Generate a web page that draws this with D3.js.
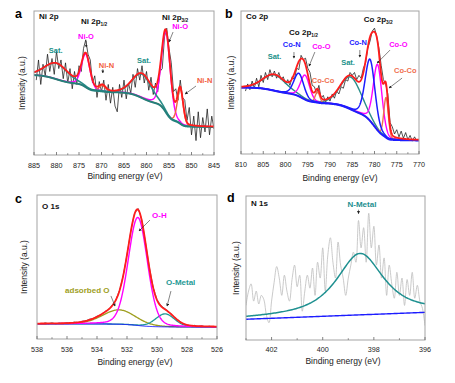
<!DOCTYPE html>
<html><head><meta charset="utf-8">
<script src="https://cdn.jsdelivr.net/npm/d3@7"></script>
<style>body{margin:0;background:#fff}svg text{font-family:"Liberation Sans",Arial,sans-serif}</style>
</head><body><svg id="c" width="455" height="383"></svg>
<script>
// ================= DATA =================
// raw spectra (intensity, % of frame height), on regular energy grids
const rawA_E0 = 884.5, rawA_step = -0.5;
const rawA = [52,66,49,63,55,70,58,67,56,72,
 60,66,53,64,50,60,46,58,49,62,
 58,74,80,70,66,50,55,40,51,44,
 52,38,49,36,47,34,30,49,40,52,
 39,50,43,56,47,60,52,62,50,58,
 45,54,42,50,44,58,60,82,88,74,
 64,44,46,38,52,40,38,24,33,14,
 27,10,30,12,26,16,32,14,27,18];
const rawB_E0 = 809, rawB_step = -0.5;
const rawB = [44,49,45,51,46,53,47,55,50,57,
 52,59,54,58,53,57,52,54,49,52,
 48,54,52,60,59,69,66,67,60,57,
 48,47,42,48,39,41,36,40,37,42,
 39,44,42,47,46,52,51,57,55,57,
 52,55,53,60,64,74,79,86,88,82,
 74,62,52,49,42,22,19,14,17,12,
 16,11,15,10,13,9,12,9];
const rawC_E0 = 537.5, rawC_step = -0.25;
const rawC = [11.4,10.6,11.3,10.4,11.2,10.7,11.5,10.9,11.8,11.4,
 12.4,12.6,13.8,14.2,15.9,16.5,18.9,20.4,23.4,27.0,
 33.8,44.2,58.6,74.6,87.2,90.6,82.2,65.9,49.3,35.8,
 27.4,23.4,21.3,19.2,16.9,14.1,12.6,10.4,9.9,9.1,
 9.5,8.7,9.2,8.4,8.9,8.2,8.7];
const rawD_E0 = 403, rawD_step = -0.1;
const rawD = [24,34,39,27,34,25,31,28,17,12,
 27,40,51,43,31,45,34,27,42,52,
 37,45,20,34,45,36,50,31,54,43,
 64,34,59,71,54,43,68,52,43,31,
 43,52,61,54,83,64,78,54,88,64,
 79,52,66,43,57,31,52,39,29,47,
 31,43,24,42,31,47,29,38,27,22,
 10];

// fitted peaks: centre (eV), height, FWHM (eV), component
const pkA_center = [880.0, 873.5, 869.8, 861.0, 855.7, 852.5];
const pkA_height = [11, 23, 4, 16.5, 56, 24];
const pkA_fwhm   = [6.0, 2.2, 1.8, 5.0, 2.3, 1.5];
const pkA_comp   = ["Sat","NiO","NiN","Sat","NiO","NiN"];
const bgA = [19.5, 55.5];   // Shirley background: low-BE end, high-BE end

const pkB_center = [802.5, 797.0, 795.6, 792.8, 785.3, 781.0, 779.3, 777.4];
const pkB_height = [11, 16, 17, 7.5, 22.5, 43, 46, 28];
const pkB_fwhm   = [6.0, 2.6, 2.4, 1.2, 5.5, 2.6, 2.3, 1.2];
const pkB_comp   = ["Sat","CoN","CoO","CoCo","Sat","CoN","CoO","CoCo"];
const bgB = [9.5, 46.5];

const pkC_center = [532.53, 531.28, 529.46];
const pkC_height = [10, 75, 9];
const pkC_fwhm   = [2.6, 1.5, 1.5];
const pkC_comp   = ["ads","OH","OM"];
const bgC = [8.3, 10.5];

const pkD_center = [398.54];
const pkD_height = [42.7];
const pkD_fwhm   = [2.2];
const pkD_comp   = ["NM"];
const bgD = [19.2, 14.4];   // linear background: 396 eV, 403 eV

const ticksA = [885,880,875,870,865,860,855,850,845];
const ticksB = [810,805,800,795,790,785,780,775,770];
const ticksC = [538,536,534,532,530,528,526];
const ticksD = [402,400,398,396];

// ================= LAYOUT =================
const svg = d3.select("#c");
const defs = svg.append("defs");
defs.append("marker").attr("id","ah").attr("viewBox","0 0 6 6").attr("refX",5).attr("refY",3)
  .attr("markerUnits","userSpaceOnUse").attr("markerWidth",3).attr("markerHeight",3).attr("orient","auto")
  .append("path").attr("d","M0,0L6,3L0,6z").attr("fill","#222");

function pv(d, w, m){ const t=d/w; return (1-m)*Math.exp(-4*Math.LN2*t*t) + m/(1+4*t*t); }

function model(dom, C, Hh, F, comp, m, bg, type){
  const lo=Math.min(...dom), hi=Math.max(...dom);
  const E=d3.range(lo, hi+1e-9, 0.05);
  const pk=C.map((c,i)=>E.map(e=>Hh[i]*pv(e-c,F[i],m)));
  const tot=E.map((e,j)=>d3.sum(pk,p=>p[j]));
  let B;
  if(type==="shirley"){ let s=0; const cum=tot.map(t=>(s+=t)); B=cum.map(c=>bg[0]+(bg[1]-bg[0])*c/s); }
  else B=E.map(e=>bg[0]+(bg[1]-bg[0])*(e-lo)/(hi-lo));
  const comps={};
  comp.forEach((n,i)=>{ if(!comps[n]) comps[n]=E.map(()=>0); pk[i].forEach((v,j)=>comps[n][j]+=v); });
  return {E,B,comps,env:E.map((e,j)=>B[j]+tot[j])};
}

function panel(cfg){
  const x=d3.scaleLinear().domain(cfg.dom).range([cfg.x0,cfg.x1]);
  const y=d3.scaleLinear().domain([0,100]).range([cfg.y1,cfg.y0]);
  const id="clip"+cfg.id;
  defs.append("clipPath").attr("id",id).append("rect")
    .attr("x",cfg.x0).attr("y",cfg.y0).attr("width",cfg.x1-cfg.x0).attr("height",cfg.y1-cfg.y0);
  const g=svg.append("g");
  const p=g.append("g").attr("clip-path",`url(#${id})`);
  // raw
  const rawPts=cfg.raw.map((v,i)=>[cfg.rawE0+i*cfg.rawStep, v]);
  p.append("path").datum(rawPts).attr("fill","none").attr("stroke",cfg.rawColor).attr("stroke-width",cfg.rawW)
    .attr("d",d3.line().x(d=>x(d[0])).y(d=>y(d[1])).curve(cfg.rawCurve||d3.curveLinear));
  // model
  const M=model(cfg.dom,cfg.pk[0],cfg.pk[1],cfg.pk[2],cfg.pk[3],cfg.m,cfg.bg,cfg.bgType);
  const ln=d3.line().x((d,j)=>x(M.E[j])).y(d=>y(d));
  cfg.order.forEach(o=>{
    let arr;
    if(o.k==="bg") arr=M.B;
    else if(o.k==="env") arr=M.env;
    else arr=M.comps[o.k].map((v,j)=>v+M.B[j]);
    p.append("path").datum(arr).attr("fill","none").attr("stroke",o.c).attr("stroke-width",o.w).attr("d",ln);
  });
  // frame
  g.append("rect").attr("x",cfg.x0).attr("y",cfg.y0).attr("width",cfg.x1-cfg.x0).attr("height",cfg.y1-cfg.y0)
    .attr("fill","none").attr("stroke","#a3a3a3").attr("stroke-width",1);
  // ticks
  const minors=cfg.ticks.slice(1).map((t,i)=>(t+cfg.ticks[i])/2);
  if(cfg.extraMinor) minors.push(...cfg.extraMinor);
  cfg.ticks.forEach(t=>{
    g.append("line").attr("x1",x(t)).attr("x2",x(t)).attr("y1",cfg.y1).attr("y2",cfg.y1-3).attr("stroke","#666").attr("stroke-width",0.8);
    g.append("text").attr("x",x(t)).attr("y",cfg.y1+cfg.tickDy).attr("text-anchor","middle")
      .attr("font-size",7.2).attr("fill","#222").text(t);
  });
  minors.forEach(t=>g.append("line").attr("x1",x(t)).attr("x2",x(t)).attr("y1",cfg.y1).attr("y2",cfg.y1-1.8).attr("stroke","#666").attr("stroke-width",0.7));
  g.append("text").attr("x",cfg.xtX).attr("y",cfg.y1+cfg.xtDy).attr("text-anchor","middle").attr("font-size",8.5).attr("fill","#222").text("Binding energy (eV)");
  g.append("text").attr("transform",`translate(${cfg.ytX},${(cfg.y0+cfg.y1)/2}) rotate(-90)`).attr("text-anchor","middle")
    .attr("font-size",8.5).attr("fill","#222").text("Intensity (a.u.)");
  // panel letter & title
  g.append("text").attr("x",cfg.letter[1]).attr("y",cfg.letter[2]).attr("font-size",12.5).attr("font-weight","bold").attr("fill","#000").text(cfg.letter[0]);
  g.append("text").attr("x",cfg.x0+5).attr("y",cfg.y0+cfg.titleDy).attr("font-size",8).attr("font-weight","bold").attr("fill","#111").text(cfg.title);
  // annotations
  cfg.ann.forEach(a=>{
    const t=g.append("text").attr("x",x(a.E)).attr("y",y(a.u)).attr("font-size",a.fs||7.5)
      .attr("font-weight","bold").attr("fill",a.c);
    t.append("tspan").text(a.t);
    if(a.sub) t.append("tspan").attr("dy",2).attr("font-size",4.8).text(a.sub);
  });
  cfg.arrows.forEach(r=>{
    g.append("line").attr("x1",x(r[0])).attr("y1",y(r[1])).attr("x2",x(r[2])).attr("y2",y(r[3]))
      .attr("stroke","#333").attr("stroke-width",0.6).attr("marker-end","url(#ah)");
  });
}

const TEAL="#2a8d89", MAG="#ff00ff", RED="#ff1c1c", BLUE="#1d1dff", ORG="#f26040", SALM="#f0704f", OLIVE="#9e9e1e";

panel({id:"A", x0:34,x1:214,y0:11,y1:155, dom:[885,845],
  raw:rawA, rawE0:rawA_E0, rawStep:rawA_step, rawColor:"#1a1a1a", rawW:0.75,
  pk:[pkA_center,pkA_height,pkA_fwhm,pkA_comp], m:0.2, bg:bgA, bgType:"shirley",
  order:[{k:"NiO",c:MAG,w:1.5},{k:"NiN",c:ORG,w:1.4},{k:"Sat",c:TEAL,w:1.6},{k:"bg",c:"#23807c",w:2},{k:"env",c:RED,w:1.8}],
  ticks:ticksA, tickDy:13, xtX:125, xtDy:24, ytX:25, letter:["a",15,18], title:"Ni 2p", titleDy:8,
  ann:[{t:"Ni 2p",sub:"1/2",E:874.56,u:91,c:"#111",fs:8},{t:"Ni 2p",sub:"3/2",E:856.56,u:93.75,c:"#111",fs:8},
       {t:"Ni-O",E:875.2,u:80.6,c:MAG},{t:"Sat.",E:881.7,u:70.8,c:"#219189"},{t:"Ni-N",E:870.6,u:60.4,c:ORG},
       {t:"Sat.",E:862.1,u:63.9,c:"#219189"},{t:"Ni-O",E:854.3,u:87.5,c:MAG},{t:"Ni-N",E:848.8,u:50,c:ORG}],
  arrows:[[873.4,79.2,873.4,75],[869.7,59.7,869.7,57],[854.1,85.4,855,78.5],[849,47.9,851.4,42.4]]});

panel({id:"B", x0:241,x1:419,y0:11,y1:154, dom:[810,770],
  raw:rawB, rawE0:rawB_E0, rawStep:rawB_step, rawColor:"#1a1a1a", rawW:0.75,
  pk:[pkB_center,pkB_height,pkB_fwhm,pkB_comp], m:0.2, bg:bgB, bgType:"shirley",
  order:[{k:"Sat",c:TEAL,w:1.4},{k:"CoO",c:MAG,w:1.4},{k:"CoCo",c:SALM,w:1.4},{k:"CoN",c:BLUE,w:1.5},{k:"bg",c:BLUE,w:2},{k:"env",c:RED,w:1.8}],
  ticks:ticksB, tickDy:13, xtX:340, xtDy:27, ytX:234, letter:["b",225,18], title:"Co 2p", titleDy:8,
  ann:[{t:"Co 2p",sub:"1/2",E:799.2,u:83.2,c:"#111",fs:8},{t:"Co 2p",sub:"3/2",E:782.4,u:92.3,c:"#111",fs:8},
       {t:"Co-N",E:800.6,u:74.8,c:BLUE},{t:"Co-O",E:794.0,u:73.4,c:MAG},{t:"Sat.",E:804.0,u:66.4,c:"#219189"},
       {t:"Co-Co",E:794.1,u:49.7,c:SALM},{t:"Sat.",E:787.5,u:62.2,c:"#219189"},{t:"Co-N",E:785.7,u:76.2,c:BLUE},
       {t:"Co-O",E:776.7,u:74.8,c:MAG},{t:"Co-Co",E:775.6,u:56.6,c:SALM}],
  arrows:[[798.1,71.3,798.1,67.1],[793.4,71.3,794.7,61.5],[783.3,72.7,783.3,67.8],[776.5,72.7,779.4,63.6],[773.8,53.1,776.7,46.2]]});

panel({id:"C", x0:37,x1:217,y0:195,y1:339, dom:[538,526],
  raw:rawC, rawE0:rawC_E0, rawStep:rawC_step, rawColor:"#555", rawW:0.8,
  pk:[pkC_center,pkC_height,pkC_fwhm,pkC_comp], m:0.15, bg:bgC, bgType:"shirley",
  order:[{k:"ads",c:OLIVE,w:1.3},{k:"OM",c:"#1f9a96",w:1.3},{k:"bg",c:BLUE,w:1},{k:"OH",c:MAG,w:1.4},{k:"env",c:RED,w:1.8}],
  ticks:ticksC, tickDy:13, xtX:135, xtDy:26, ytX:27, letter:["c",15,203], title:"O 1s", titleDy:14,
  ann:[{t:"O-H",E:530.33,u:84,c:MAG,fs:8},{t:"O-Metal",E:529.4,u:37.5,c:"#1f9a96",fs:8},{t:"adsorbed O",E:536.13,u:31.9,c:OLIVE,fs:8}],
  arrows:[[530.47,82.6,531.2,75],[533.07,29.9,532.8,22.9],[529.07,33.3,529.33,22.9]]});

panel({id:"D", x0:246,x1:425,y0:196,y1:340, dom:[403,396],
  raw:rawD, rawE0:rawD_E0, rawStep:rawD_step, rawColor:"#bdbdbd", rawW:0.8, rawCurve:d3.curveCatmullRom.alpha(0.5),
  pk:[pkD_center,pkD_height,pkD_fwhm,pkD_comp], m:0.85, bg:bgD, bgType:"linear",
  order:[{k:"bg",c:BLUE,w:1.4},{k:"NM",c:"#1e9090",w:1.5}],
  ticks:ticksD, tickDy:12, xtX:343, xtDy:24, ytX:239, letter:["d",227,202], title:"N 1s", titleDy:10,
  extraMinor:[403], 
  ann:[{t:"N-Metal",E:399.03,u:92.4,c:"#1e9090",fs:8}],
  arrows:[[398.6,90.5,398.6,87.8]]});
</script></body></html>
